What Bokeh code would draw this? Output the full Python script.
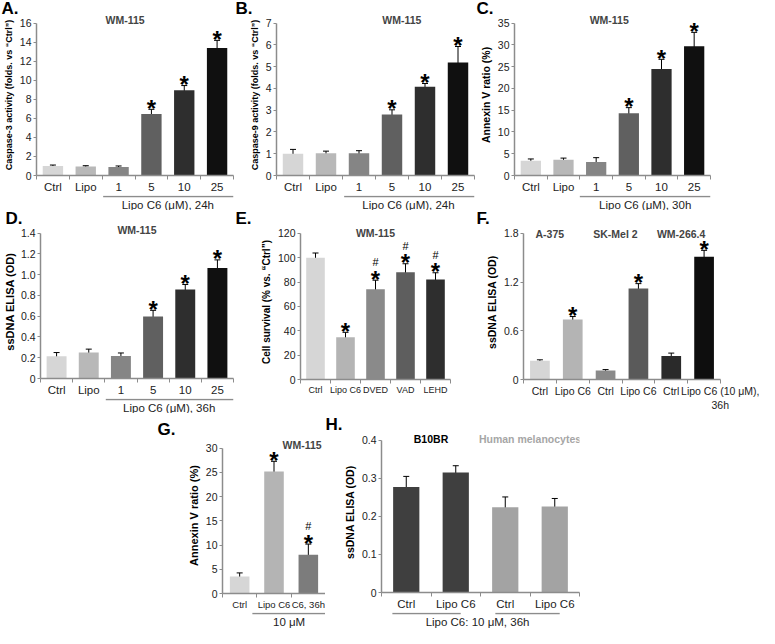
from bokeh.plotting import figure
from bokeh.models import (ColumnDataSource, Whisker, TeeHead, Label, FixedTicker, Range1d, Spacer)
from bokeh.layouts import row, column
from bokeh.core.properties import value
from bokeh.embed import file_html
from bokeh.resources import INLINE

FONT = "Liberation Sans"
AXIS_GRAY = "#8c8c8c"
TXT = "#222222"

# ---------------- data ----------------
dose_cats = ["Ctrl", "Lipo", "1", "5", "10", "25"]
six_grays = ["#d6d6d6", "#b8b8b8", "#858585", "#606060", "#2e2e2e", "#101010"]

a_vals = [1.0, 0.95, 0.9, 6.45, 8.95, 13.4]
a_errs = [0.1, 0.08, 0.1, 0.5, 0.5, 0.8]
a_star = ["", "", "", "*", "*", "*"]
a_yticks = [0, 2, 4, 6, 8, 10, 12, 14, 16]

b_vals = [1.0, 1.02, 1.02, 2.8, 4.08, 5.2]
b_errs = [0.2, 0.1, 0.12, 0.22, 0.15, 0.73]
b_star = ["", "", "", "*", "*", "*"]
b_yticks = [0, 1, 2, 3, 4, 5, 6, 7]

c_vals = [3.4, 3.6, 3.1, 14.3, 24.5, 29.7]
c_errs = [0.4, 0.4, 1.0, 1.3, 2.2, 3.2]
c_star = ["", "", "", "*", "*", "*"]
c_yticks = [0, 5, 10, 15, 20, 25, 30, 35]

d_vals = [0.215, 0.25, 0.218, 0.597, 0.858, 1.065]
d_errs = [0.035, 0.033, 0.028, 0.06, 0.048, 0.078]
d_star = ["", "", "", "*", "*", "*"]
d_yticks = [0, 0.2, 0.4, 0.6, 0.8, 1.0, 1.2, 1.4]
d_ylabels = ["0", "0.2", "0.4", "0.6", "0.8", "1.0", "1.2", "1.4"]

e_cats = ["Ctrl", "Lipo C6", "DVED", "VAD", "LEHD"]
e_vals = [100, 34.7, 74, 88, 82]
e_errs = [3.8, 4, 7.5, 7, 5.6]
e_star = ["", "*", "*", "*", "*"]
e_hash = ["", "", "#", "#", "#"]
e_colors = ["#d6d6d6", "#b4b4b4", "#8a8a8a", "#5e5e5e", "#2e2e2e"]
e_yticks = [0, 20, 40, 60, 80, 100, 120]

f_cats = ["Ctrl", "Lipo C6", "Ctrl", "Lipo C6", "Ctrl", "Lipo C6 (10 μM),\n36h"]
f_vals = [0.23, 0.74, 0.11, 1.12, 0.29, 1.51]
f_errs = [0.012, 0.035, 0.012, 0.06, 0.035, 0.08]
f_star = ["", "*", "", "*", "", "*"]
f_groups = ["A-375", "SK-Mel 2", "WM-266.4"]
f_colors = ["#d6d6d6", "#b4b4b4", "#8a8a8a", "#5a5a5a", "#2a2a2a", "#0e0e0e"]
f_yticks = [0, 0.6, 1.2, 1.8]
f_ylabels = ["0", "0.6", "1.2", "1.8"]

g_cats = ["Ctrl", "Lipo C6", "C6, 36h"]
g_vals = [3.5, 25.2, 8.0]
g_errs = [0.75, 2.1, 2.2]
g_star = ["", "*", "*"]
g_hash = ["", "", "#"]
g_colors = ["#d6d6d6", "#b4b4b4", "#7c7c7c"]
g_yticks = [0, 5, 10, 15, 20, 25, 30]

h_cats = ["Ctrl", "Lipo C6", "Ctrl", "Lipo C6"]
h_vals = [0.277, 0.315, 0.224, 0.226]
h_errs = [0.028, 0.018, 0.027, 0.021]
h_groups = ["B10BR", "Human melanocytes"]
h_group_colors = ["black", "#a6a6a6"]
h_colors = ["#3f3f3f", "#3f3f3f", "#a3a3a3", "#a3a3a3"]
h_yticks = [0, 0.1, 0.2, 0.3, 0.4]
h_ylabels = ["0", "0.1", "0.2", "0.3", "0.4"]


def make_panel(width, height, cats, vals, errs, colors, yticks, ylabel, mb, e_top,
               ylabels=None, x_end=None, label_shift=None, bar_w=0.62, stars=None,
               hashes=None, xlab_size="11.5px", ylab_size="10.5px", title=None,
               title_x=None, title_dy=3, letter=None, letter_dx=0, letter_standoff=-7):
    n = len(cats)
    xs = [i + 1 for i in range(n)]
    x_end = x_end if x_end is not None else n + 0.5
    left, right, top, bottom = mb
    frame_h = height - top - bottom
    y0, y1 = yticks[0], yticks[-1]
    y_end = y1 + e_top * (y1 - y0) / (frame_h - e_top)
    p = figure(width=width, height=height, output_backend="svg", toolbar_location=None,
               x_range=Range1d(0.5, x_end), y_range=Range1d(y0, y_end),
               min_border_left=left, min_border_right=right,
               min_border_top=top, min_border_bottom=bottom)
    p.outline_line_color = None
    p.xgrid.visible = False
    p.ygrid.visible = False
    p.background_fill_color = None
    p.border_fill_color = None

    up = [v + e for v, e in zip(vals, errs)]
    lo = [v - e for v, e in zip(vals, errs)]
    src = ColumnDataSource(dict(x=xs, top=vals, up=up, lo=lo, color=colors))
    p.vbar(x="x", top="top", width=bar_w, fill_color="color", line_color=None, source=src)
    p.add_layout(Whisker(source=src, base="x", upper="up", lower="lo",
                         line_color="black", line_width=1,
                         upper_head=TeeHead(size=6, line_color="black", line_width=1),
                         lower_head=TeeHead(size=6, line_color="black", line_width=1)))
    if stars is not None:
        p.text(x=xs, y=up, text=stars, text_font=value(FONT), text_font_size="24px",
               text_font_style="bold", text_align="center", text_baseline="alphabetic",
               y_offset=-1, text_color="black")
    if hashes is not None:
        p.text(x=xs, y=up, text=hashes, text_font=value(FONT), text_font_size="11px",
               text_align="center", text_baseline="alphabetic", y_offset=-18,
               text_color="black")

    # x axis, Excel style: tick marks at category boundaries
    tick_pos = list(xs)
    if label_shift:
        tick_pos[-1] = xs[-1] + label_shift
    xa = p.xaxis[0]
    xa.ticker = FixedTicker(ticks=tick_pos, minor_ticks=[i + 0.5 for i in range(n + 1)])
    xa.major_label_overrides = {t: c for t, c in zip(tick_pos, cats)}
    xa.major_tick_out = 0
    xa.major_tick_in = 0
    xa.minor_tick_out = 4
    xa.minor_tick_in = 0
    xa.minor_tick_line_color = AXIS_GRAY
    xa.axis_line_color = AXIS_GRAY
    xa.axis_line_width = 1.5
    xa.major_label_standoff = 1
    xa.major_label_text_font = FONT
    xa.major_label_text_font_size = xlab_size
    xa.major_label_text_color = TXT

    ya = p.yaxis[0]
    ya.bounds = (y0, y1)
    ya.ticker = FixedTicker(ticks=yticks, minor_ticks=[])
    if ylabels is not None:
        ya.major_label_overrides = {t: s for t, s in zip(yticks, ylabels)}
    ya.major_tick_out = 3
    ya.major_tick_in = 0
    ya.minor_tick_out = 0
    ya.major_tick_line_color = AXIS_GRAY
    ya.axis_line_color = AXIS_GRAY
    ya.axis_line_width = 1.5
    ya.major_label_standoff = 2
    ya.major_label_text_font = FONT
    ya.major_label_text_font_size = "10.5px"
    ya.major_label_text_color = TXT
    ya.axis_label = ylabel
    ya.axis_label_standoff = 3
    ya.axis_label_text_font = FONT
    ya.axis_label_text_font_size = ylab_size
    ya.axis_label_text_font_style = "bold"
    ya.axis_label_text_color = "black"

    if title:
        p.add_layout(Label(x=title_x, y=y1, text=title, text_font=FONT,
                           text_font_size="10.5px", text_font_style="bold",
                           text_align="center", text_baseline="middle", y_offset=title_dy))
    if letter:
        p.title.text = letter
        p.title.align = "left"
        p.title.offset = -left + letter_dx
        p.title.standoff = letter_standoff
        p.title.text_font = FONT
        p.title.text_font_size = "17px"
        p.title.text_font_style = "bold"
        p.title.text_color = "black"
    return p


def caption(main, width, height, left, right, spans, text, text_x):
    c = figure(width=width, height=height, output_backend="svg", toolbar_location=None,
               x_range=main.x_range, y_range=Range1d(0, 1), x_axis_type=None,
               y_axis_type=None, min_border_left=left, min_border_right=right,
               min_border_top=0, min_border_bottom=0)
    c.outline_line_color = None
    c.background_fill_color = None
    c.border_fill_color = None
    for lo, hi in spans:
        c.segment(x0=[lo], y0=[0.93], x1=[hi], y1=[0.93], line_color=AXIS_GRAY, line_width=1.5)
    c.text(x=[text_x], y=[0.38], text=[text], text_font=value(FONT), text_font_size="11.5px",
           text_align="center", text_baseline="middle", text_color=TXT)
    return c


# ---------------- row 1 ----------------
pA = make_panel(235, 195, dose_cats, a_vals, a_errs, six_grays, a_yticks,
                "Caspase-3 activity (folds. vs \u201cCtrl\u201d)", (35, 2, 14, 15), 9,
                stars=a_star, ylab_size="9px", title="WM-115", title_x=3.2, letter="A.")
cA = caption(pA, 235, 15, 35, 2, [(2.53, 6.5)], "Lipo C6 (μM), 24h", 4.5)

pB = make_panel(241, 195, dose_cats, b_vals, b_errs, six_grays, b_yticks,
                "Caspase-9 activity (folds. vs \u201cCtrl\u201d)", (41, 2, 14, 15), 9,
                stars=b_star, ylab_size="9px", title="WM-115", title_x=4.3, letter="B.")
cB = caption(pB, 241, 15, 41, 2, [(2.55, 6.5)], "Lipo C6 (μM), 24h", 4.5)

pC = make_panel(283, 195, dose_cats, c_vals, c_errs, six_grays, c_yticks,
                "Annexin V ratio (%)", (38, 49, 14, 15), 9,
                stars=c_star, ylab_size="10.5px", title="WM-115", title_x=3.4, letter="C.")
cC = caption(pC, 283, 15, 38, 49, [(2.5, 6.5)], "Lipo C6 (μM), 30h", 4.5)

# ---------------- row 2 ----------------
pD = make_panel(235, 188, dose_cats, d_vals, d_errs, six_grays, d_yticks,
                "ssDNA ELISA (OD)", (35, 2, 14, 15), 9, ylabels=d_ylabels,
                stars=d_star, ylab_size="11px", title="WM-115", title_x=3.5, letter="D.")
pD.yaxis[0].axis_label_standoff = 2
cD = caption(pD, 235, 15, 35, 2, [(2.53, 6.5)], "Lipo C6 (μM), 36h", 4.5)

pE = make_panel(241, 203, e_cats, e_vals, e_errs, e_colors, e_yticks,
                "Cell survival (% vs. \u201cCtrl\u201d)", (65, 26, 14, 30), 9,
                stars=e_star, hashes=e_hash, xlab_size="9px", ylab_size="10px",
                title="WM-115", title_x=3.0, title_dy=0, letter="E.", x_end=5.5)

pF = make_panel(283, 203, f_cats, f_vals, f_errs, f_colors, f_yticks,
                "ssDNA ELISA (OD)", (47, 39, 14, 30), 9, ylabels=f_ylabels,
                stars=f_star, xlab_size="10.5px", ylab_size="10.5px", letter="F.",
                bar_w=0.6, label_shift=0.5)
for i, g in enumerate(f_groups):
    pF.add_layout(Label(x=2 * i + 1.3, y=f_yticks[-1], text=g, text_font=FONT,
                        text_font_size="10.5px", text_font_style="bold",
                        text_align="center", text_baseline="middle", y_offset=-1))

# ---------------- row 3 ----------------
pG = make_panel(173, 199, g_cats, g_vals, g_errs, g_colors, g_yticks,
                "Annexin V ratio (%)", (70, 0, 24, 15), 11, xlab_size="9.5px",
                stars=g_star, hashes=g_hash, ylab_size="11px", bar_w=0.57,
                title="WM-115", title_x=2.82, title_dy=3, letter="G.", letter_dx=5,
                letter_standoff=-2)
cG = caption(pG, 173, 16, 70, 0, [(1.37, 3.5)], "10 μM", 2.44)

pH = make_panel(434, 199, h_cats, h_vals, h_errs, h_colors, h_yticks,
                "ssDNA ELISA (OD)", (56, 180, 18, 15), 9, ylabels=h_ylabels,
                ylab_size="10.5px", bar_w=0.53, letter="H.", letter_standoff=-5)
for i, (g, col) in enumerate(zip(h_groups, h_group_colors)):
    pH.add_layout(Label(x=2 * i + 1.5, y=h_yticks[-1], text=g, text_font=FONT,
                        text_font_size="10.5px", text_font_style="bold", text_color=col,
                        text_align="center", text_baseline="middle", y_offset=1))
cH = caption(pH, 434, 16, 56, 180, [(0.72, 2.1), (2.8, 4.1)], "Lipo C6: 10 μM, 36h", 2.44)

layout = column(
    row(column(pA, cA), column(pB, cB), column(pC, cC)),
    row(column(pD, cD), pE, pF),
    row(Spacer(width=152, height=215), column(pG, cG), column(pH, cH)),
)

open("out.html", "w").write(file_html(layout, INLINE))
